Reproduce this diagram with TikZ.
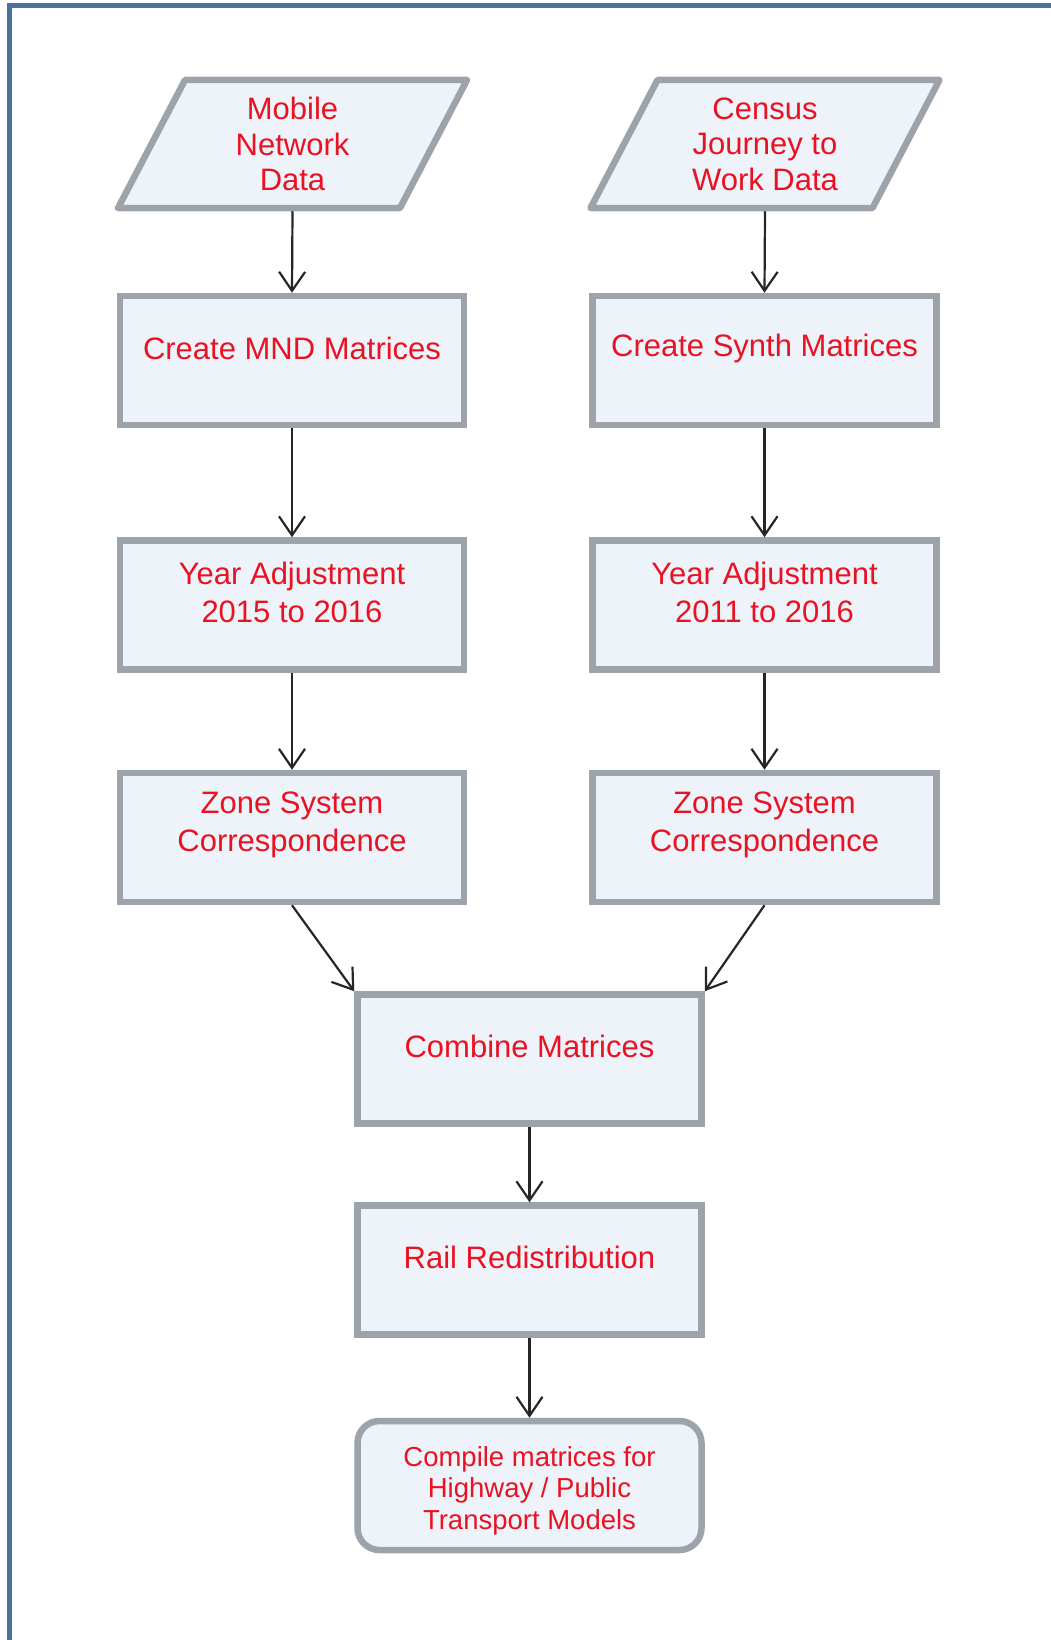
\documentclass[tikz,border=0pt]{standalone}
\usepackage{fontspec}
\setmainfont{Liberation Sans}
\usetikzlibrary{arrows.meta}
\definecolor{frameblue}{RGB}{74,114,156}
\definecolor{boxfill}{RGB}{238,243,250}
\definecolor{boxedge}{RGB}{157,163,170}
\definecolor{labelred}{RGB}{232,18,34}
\definecolor{arrowgrey}{RGB}{38,38,38}
\begin{document}
\begin{tikzpicture}[x=1pt,y=-1pt,
  process/.style={rectangle, draw=boxedge, fill=boxfill, line width=6.5pt,
    minimum width=344pt, minimum height=129pt, inner sep=0pt},
  terminal/.style={process, rounded corners=22pt},
  % frame of a data node: body 282 x 128, slanted by 67 over its height
  databody/.style={rectangle, minimum width=282pt, minimum height=128pt,
    inner sep=0pt, outer sep=3.25pt},
  dataedge/.style={draw=boxedge, fill=boxfill, line width=6.5pt, line join=round},
  datatext/.style={text=labelred, align=center, inner sep=0pt,
    font=\fontsize{31}{35.6}\selectfont},
  boxtext/.style={text=labelred, align=center, inner sep=0pt,
    font=\fontsize{31}{37.6}\selectfont},
  smalltext/.style={boxtext, font=\fontsize{27.5}{31.5}\selectfont},
  flow/.style={draw=arrowgrey, line width=2.2pt,
    -{Straight Barb[length=19pt,width=26pt]}}
]
\useasboundingbox (0,0) rectangle (1051,1640);

% page frame
\draw[frameblue, line width=5pt] (9.5,1640) -- (9.5,5.5) -- (1051,5.5);

% input data (parallelograms)
\node[databody] (mnd-data) at (292.5,144) {};
\draw[dataedge] ([xshift=-30.25pt,yshift=3.25pt]mnd-data.south west)
  -- ([xshift=36.75pt,yshift=-3.25pt]mnd-data.north west)
  -- ([xshift=30.25pt,yshift=-3.25pt]mnd-data.north east)
  -- ([xshift=-36.75pt,yshift=3.25pt]mnd-data.south east) -- cycle;
\node[datatext] (mnd-data-t) at (mnd-data.center) {Mobile\\Network\\Data};

\node[databody] (census-data) at (765,144) {};
\draw[dataedge] ([xshift=-30.25pt,yshift=3.25pt]census-data.south west)
  -- ([xshift=36.75pt,yshift=-3.25pt]census-data.north west)
  -- ([xshift=30.25pt,yshift=-3.25pt]census-data.north east)
  -- ([xshift=-36.75pt,yshift=3.25pt]census-data.south east) -- cycle;
\node[datatext] (census-data-t) at (census-data.center) {Census\\Journey to\\Work Data};

% left branch
\node[process] (mnd) at (292,360.5) {};
\node[boxtext] (mnd-t) at ([yshift=12.5pt]mnd.center) {Create MND Matrices};
\node[process] (yearL) at (292,605) {};
\node[boxtext] (yearL-t) at ([yshift=12.5pt]yearL.center) {Year Adjustment\\2015 to 2016};
\node[process] (zoneL) at (292,837.5) {};
\node[boxtext] (zoneL-t) at ([yshift=12.5pt]zoneL.center) {Zone System\\Correspondence};

% right branch
\node[process] (synth) at (764.5,360.5) {};
\node[boxtext] (synth-t) at ([yshift=12.5pt]synth.center) {Create Synth Matrices};
\node[process] (yearR) at (764.5,605) {};
\node[boxtext] (yearR-t) at ([yshift=12.5pt]yearR.center) {Year Adjustment\\2011 to 2016};
\node[process] (zoneR) at (764.5,837.5) {};
\node[boxtext] (zoneR-t) at ([yshift=12.5pt]zoneR.center) {Zone System\\Correspondence};

% merged steps
\node[process] (combine) at (529.5,1059) {};
\node[boxtext] (combine-t) at ([yshift=12.5pt]combine.center) {Combine Matrices};
\node[process] (rail) at (529.5,1270) {};
\node[boxtext] (rail-t) at ([yshift=12.5pt]rail.center) {Rail Redistribution};
\node[terminal] (compile) at (529.5,1485.5) {};
\node[smalltext] (compile-t) at ([yshift=-5pt]compile.center) {Compile matrices for\\Highway / Public\\Transport Models};

% connectors
\draw[flow] (mnd-data.south) -- (mnd.north);
\draw[flow] (mnd.south) -- (yearL.north);
\draw[flow] (yearL.south) -- (zoneL.north);
\draw[flow] (census-data.south) -- (synth.north);
\draw[flow] (synth.south) -- (yearR.north);
\draw[flow] (yearR.south) -- (zoneR.north);
\draw[flow] (zoneL.south) -- (combine.north west);
\draw[flow] (zoneR.south) -- (combine.north east);
\draw[flow] (combine.south) -- (rail.north);
\draw[flow] (rail.south) -- (compile.north);
\end{tikzpicture}
\end{document}
